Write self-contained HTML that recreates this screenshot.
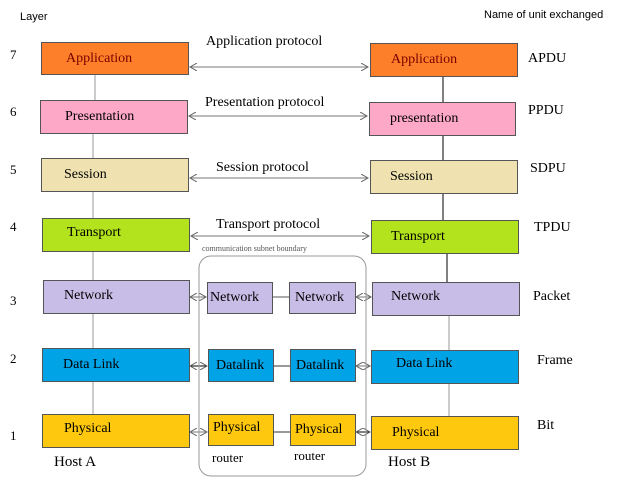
<!DOCTYPE html>
<html><head><meta charset="utf-8"><style>
body{margin:0;background:#fff;}
#c{position:relative;width:640px;height:492px;overflow:hidden;font-family:"Liberation Serif",serif;color:#000;}
.b{position:absolute;box-sizing:border-box;border:1px solid #555;font-size:14px;display:flex;align-items:center;}
.t{position:absolute;font-size:13px;white-space:nowrap;line-height:1;}
svg{position:absolute;left:0;top:0;}
</style></head><body><div id="c">
<svg width="640" height="492">
<defs><marker id="a" markerWidth="8" markerHeight="8" refX="7" refY="4" orient="auto-start-reverse" markerUnits="userSpaceOnUse"><path d="M0,0 L7,4 L0,8" fill="none" stroke="#666" stroke-width="1"/></marker></defs>
<g stroke="#999" stroke-width="1">
<line x1="95" y1="74" x2="95" y2="100"/><line x1="93" y1="133" x2="93" y2="158"/><line x1="93" y1="192" x2="93" y2="218"/><line x1="93" y1="252" x2="93" y2="280"/><line x1="93" y1="313" x2="93" y2="348"/><line x1="93" y1="381" x2="93" y2="414"/>
<line x1="447" y1="253" x2="447" y2="282" stroke="#000"/><line x1="449" y1="315" x2="449" y2="350"/><line x1="449" y1="383" x2="449" y2="416"/>
</g>
<g stroke="#000"><line x1="443" y1="76" x2="443" y2="102"/><line x1="443" y1="135" x2="443" y2="160"/><line x1="443" y1="193" x2="443" y2="220"/></g>
<g stroke="#777" stroke-width="1" marker-start="url(#a)" marker-end="url(#a)">
<line x1="190" y1="67" x2="368" y2="67"/><line x1="189" y1="116" x2="367" y2="116"/><line x1="190" y1="178" x2="368" y2="178"/><line x1="191" y1="236" x2="369" y2="236"/>
<line x1="190" y1="297" x2="206" y2="297"/><line x1="356" y1="297" x2="371" y2="297"/>
<line x1="190" y1="366" x2="207" y2="366" stroke="#000"/><line x1="356" y1="366" x2="370" y2="366"/>
<line x1="190" y1="432" x2="207" y2="432"/><line x1="356" y1="432" x2="370" y2="432" stroke="#000"/>
</g>
<line x1="272" y1="297" x2="289" y2="297" stroke="#aaa" stroke-width="2"/>
<line x1="273" y1="366" x2="290" y2="366" stroke="#333"/>
<line x1="273" y1="432" x2="290" y2="432" stroke="#333"/>
<rect x="199" y="256" width="167" height="220" rx="12" fill="none" stroke="#999"/>
</svg>
<div class="t" style="left:20px;top:12px;font-family:'Liberation Sans',sans-serif;font-size:11px">Layer</div>
<div class="t" style="left:484px;top:10px;font-family:'Liberation Sans',sans-serif;font-size:11px">Name of unit exchanged</div>
<div class="t" style="left:10px;top:48px">7</div><div class="t" style="left:10px;top:105px">6</div><div class="t" style="left:10px;top:163px">5</div><div class="t" style="left:10px;top:220px">4</div><div class="t" style="left:10px;top:294px">3</div><div class="t" style="left:10px;top:352px">2</div><div class="t" style="left:10px;top:429px">1</div>
<div class="t" style="left:528px;top:52px;font-size:14px">APDU</div><div class="t" style="left:528px;top:104px;font-size:14px">PPDU</div><div class="t" style="left:530px;top:162px;font-size:14px">SDPU</div><div class="t" style="left:534px;top:221px;font-size:14px">TPDU</div><div class="t" style="left:533px;top:290px;font-size:14px">Packet</div><div class="t" style="left:537px;top:354px;font-size:14px">Frame</div><div class="t" style="left:537px;top:419px;font-size:14px">Bit</div>
<div class="t" style="left:206px;top:35px;font-size:14px">Application protocol</div>
<div class="t" style="left:205px;top:96px;font-size:14px">Presentation protocol</div>
<div class="t" style="left:216px;top:161px;font-size:14px">Session protocol</div>
<div class="t" style="left:216px;top:218px;font-size:14px">Transport protocol</div>
<div class="t" style="left:202px;top:245px;font-size:8px;color:#555">communication subnet boundary</div>
<div class="b" style="left:41px;top:42px;width:148px;height:33px;background:#fe7f2a;color:#700;padding-left:24px">Application</div>
<div class="b" style="left:370px;top:43px;width:148px;height:34px;background:#fe7f2a;color:#700;padding-left:20px">Application</div>
<div class="b" style="left:40px;top:100px;width:148px;height:34px;background:#fea8c8;padding-left:24px">Presentation</div>
<div class="b" style="left:369px;top:102px;width:147px;height:34px;background:#fea8c8;padding-left:20px">presentation</div>
<div class="b" style="left:41px;top:158px;width:148px;height:34px;background:#efe2b0;padding-left:22px">Session</div>
<div class="b" style="left:370px;top:160px;width:148px;height:34px;background:#efe2b0;padding-left:19px">Session</div>
<div class="b" style="left:42px;top:218px;width:148px;height:34px;background:#b2e31c;padding-left:24px;align-items:flex-start;padding-top:6px">Transport</div>
<div class="b" style="left:371px;top:220px;width:148px;height:34px;background:#b2e31c;padding-left:19px">Transport</div>
<div class="b" style="left:43px;top:280px;width:147px;height:34px;background:#c8bde6;padding-left:20px;align-items:flex-start;padding-top:7px">Network</div>
<div class="b" style="left:372px;top:282px;width:148px;height:34px;background:#c8bde6;padding-left:18px;align-items:flex-start;padding-top:6px">Network</div>
<div class="b" style="left:42px;top:348px;width:148px;height:34px;background:#00a3e6;padding-left:20px">Data Link</div>
<div class="b" style="left:371px;top:350px;width:148px;height:34px;background:#00a3e6;padding-left:24px;align-items:flex-start;padding-top:5px">Data Link</div>
<div class="b" style="left:42px;top:414px;width:148px;height:34px;background:#fec80e;padding-left:21px;align-items:flex-start;padding-top:6px">Physical</div>
<div class="b" style="left:371px;top:416px;width:148px;height:34px;background:#fec80e;padding-left:20px">Physical</div>
<div class="b" style="left:207px;top:282px;width:66px;height:32px;background:#c8bde6;padding-left:2px">Network</div>
<div class="b" style="left:289px;top:282px;width:67px;height:32px;background:#c8bde6;padding-left:5px">Network</div>
<div class="b" style="left:208px;top:349px;width:66px;height:33px;background:#00a3e6;padding-left:7px">Datalink</div>
<div class="b" style="left:290px;top:349px;width:66px;height:33px;background:#00a3e6;padding-left:5px">Datalink</div>
<div class="b" style="left:208px;top:414px;width:66px;height:32px;background:#fec80e;padding-left:4px;align-items:flex-start;padding-top:5px">Physical</div>
<div class="b" style="left:290px;top:414px;width:66px;height:32px;background:#fec80e;padding-left:4px">Physical</div>
<div class="t" style="left:212px;top:451px">router</div><div class="t" style="left:294px;top:449px">router</div>
<div class="t" style="left:54px;top:455px;font-size:15px">Host A</div><div class="t" style="left:388px;top:455px;font-size:15px">Host B</div>
</div></body></html>
